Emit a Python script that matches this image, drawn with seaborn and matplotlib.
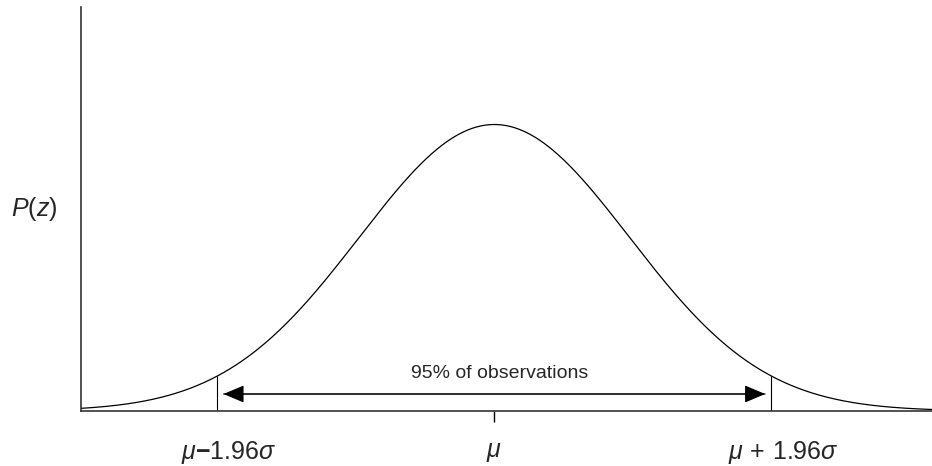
import numpy as np
import matplotlib
matplotlib.use("Agg")
import matplotlib.pyplot as plt
import seaborn as sns

# normal curve in sigma units (mu = 0, sigma = 1)
mu = 0.0
sigma = 1.0
x_range = (-3.06, 3.24)
# interval marker positions as drawn (in sigma units)
band_lo = -2.05
band_hi = 2.05
tick_labels = [r"$\mu\mathbf{{-}}1.96\sigma$", r"$\mu$", r"$\mu\,+\,1.96\sigma$"]
band_text = "95% of observations"
y_label = r"$P(z)$"

z = np.linspace(x_range[0], x_range[1], 600)
pdf = np.exp(-0.5 * ((z - mu) / sigma) ** 2) / (sigma * np.sqrt(2 * np.pi))


def density(v):
    return np.exp(-0.5 * ((v - mu) / sigma) ** 2) / (sigma * np.sqrt(2 * np.pi))


sns.set_style("white")
plt.rcParams["font.family"] = ["Liberation Sans", "DejaVu Sans"]
plt.rcParams["mathtext.fontset"] = "custom"
plt.rcParams["mathtext.rm"] = "Liberation Sans"
plt.rcParams["mathtext.it"] = "Liberation Sans:italic"
plt.rcParams["mathtext.bf"] = "Liberation Sans:bold"

fig = plt.figure(figsize=(9.32, 4.66), dpi=100)
ax = fig.add_axes([81 / 932, 55 / 466, 851 / 932, 404 / 466])

sns.lineplot(x=z, y=pdf, ax=ax, color="black", linewidth=0.9)

ax.set_xlim(*x_range)
ax.set_ylim(0, density(mu) * 404 / 286.5)

# vertical markers from baseline up to the curve
for b in (band_lo, band_hi):
    ax.vlines(b, 0, density(b), color="black", linewidth=0.8)

# double-headed arrow between markers
arrow_y = density(mu) * 404 / 286.5 * 17 / 404
gap = 0.045
for a, b in ((band_lo + gap, band_hi - gap), (band_hi - gap, band_lo + gap)):
    ax.annotate("", xy=(a, arrow_y), xytext=(b, arrow_y),
                arrowprops=dict(arrowstyle="-|>,head_length=1.3,head_width=0.55",
                                color="black", lw=0.8, shrinkA=0, shrinkB=0,
                                mutation_scale=10))
ax.text(mu + 0.04, arrow_y + 0.017, band_text,
        ha="center", va="bottom", fontsize=14)

# axes styling
sns.despine(ax=ax)
for s in ("left", "bottom"):
    ax.spines[s].set_color("#333333")
    ax.spines[s].set_linewidth(1.2)
ax.set_yticks([])
ax.set_xticks([mu])
ax.set_xticklabels([])
ax.tick_params(axis="x", direction="out", length=8, width=1, color="black", bottom=True)

trans = matplotlib.transforms.blended_transform_factory(ax.transData, ax.transAxes)
label_x = [band_lo + 0.08, mu, band_hi + 0.09]
for lx, lab in zip(label_x, tick_labels):
    ax.text(lx, -0.102, lab, transform=trans, ha="center", va="center", fontsize=18)

ax.text(-0.055, 0.5, y_label, transform=ax.transAxes, ha="center", va="center",
        fontsize=18)

fig.savefig("out.png", dpi=100)
